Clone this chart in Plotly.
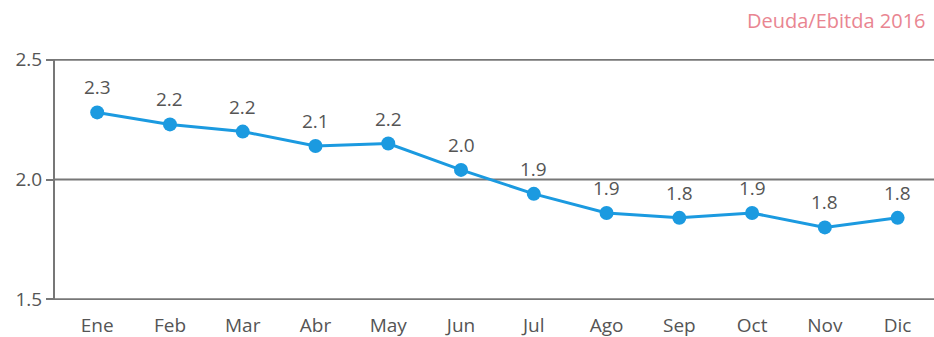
import plotly.graph_objects as go
from decimal import Decimal, ROUND_HALF_UP

# Monthly Deuda/Ebitda ratio, 2016
months = ["Ene", "Feb", "Mar", "Abr", "May", "Jun", "Jul", "Ago", "Sep", "Oct", "Nov", "Dic"]
ratio = [2.28, 2.23, 2.20, 2.14, 2.15, 2.04, 1.94, 1.86, 1.84, 1.86, 1.80, 1.84]
y_ticks = [1.5, 2.0, 2.5]
title_text = "Deuda/Ebitda 2016"

LINE_BLUE = "#1b9ae0"
TEXT_GREY = "#555555"
GRID_GREY = "#777777"
FONT = "Open Sans, Lato, sans-serif"


def one_decimal(v):
    return str(Decimal(str(v)).quantize(Decimal("0.1"), rounding=ROUND_HALF_UP))


fig = go.Figure()

# horizontal rules at each y tick, spanning the full plot width
for t in y_ticks:
    fig.add_shape(
        type="line", xref="paper", yref="y", x0=0, x1=1, y0=t, y1=t,
        line=dict(color=GRID_GREY, width=2), layer="below",
    )

fig.add_trace(go.Scatter(
    x=list(range(len(months))),
    y=ratio,
    mode="lines+markers",
    line=dict(color=LINE_BLUE, width=3),
    marker=dict(color=LINE_BLUE, size=14),
    hoverinfo="skip",
    showlegend=False,
    cliponaxis=False,
))

# value labels above each point
for i, v in enumerate(ratio):
    fig.add_annotation(
        x=i, y=v, text=one_decimal(v), showarrow=False,
        yshift=25, font=dict(family=FONT, size=19, color=TEXT_GREY),
    )

fig.add_annotation(
    xref="paper", yref="paper", x=1, y=1, xanchor="right", yanchor="middle",
    xshift=-6, yshift=39,
    text=title_text, showarrow=False,
    font=dict(family=FONT, size=20, color="#e98591"),
)

fig.update_xaxes(
    tickmode="array",
    tickvals=list(range(len(months))),
    ticktext=months,
    range=[-0.58, 11.5],
    showgrid=False, zeroline=False, showline=False,
    ticks="", ticklabelstandoff=12, automargin=False,
    tickfont=dict(family=FONT, size=19, color=TEXT_GREY),
    fixedrange=True,
)
fig.update_yaxes(
    tickmode="array",
    tickvals=y_ticks,
    ticktext=[f"{t:.1f}" for t in y_ticks],
    range=[1.497, 2.503],
    showgrid=False,
    zeroline=False, automargin=False,
    showline=True, linecolor=GRID_GREY, linewidth=2,
    ticks="outside", ticklen=7, tickwidth=2, tickcolor=GRID_GREY,
    tickfont=dict(family=FONT, size=19, color=TEXT_GREY),
    fixedrange=True,
)

fig.update_layout(
    width=934, height=337,
    margin=dict(l=55, r=0, t=59, b=37),
    paper_bgcolor="white",
    plot_bgcolor="white",
)

fig.write_html("out.html", config={"displayModeBar": False})
